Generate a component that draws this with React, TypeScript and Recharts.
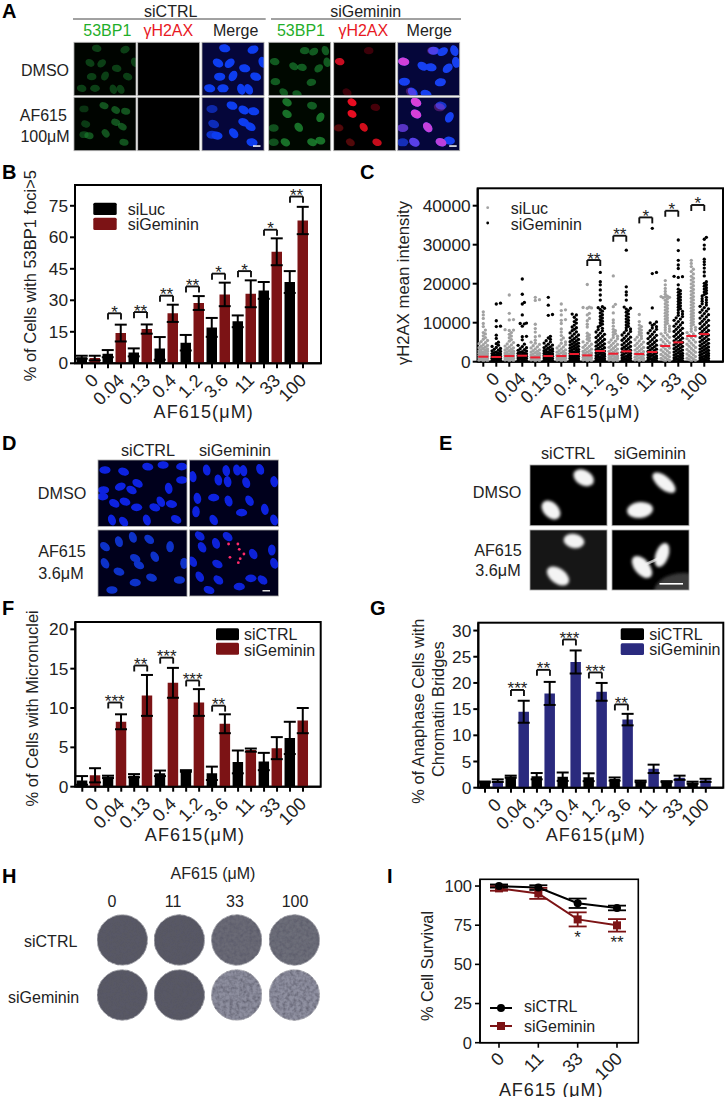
import React from 'react';
import {
  BarChart, Bar, Cell, ErrorBar, XAxis, YAxis, ReferenceLine, ReferenceDot,
  ScatterChart, Scatter, LineChart, Line, Label,
} from 'recharts';

const FONT = '"Liberation Sans", Arial, sans-serif';
const INK = '#222';
const MAROON = '#7c1315';
const NAVY = '#2a2a7e';

const doses = ['0', '0.04', '0.13', '0.4', '1.2', '3.6', '11', '33', '100'];

// Panel B
const bLuc = [2.9, 4.6, 5.2, 7.1, 9.8, 17.1, 20, 34.7, 38.7];
const bLucErr = [0.7, 1.7, 1.9, 5.4, 3.7, 4.5, 2.8, 4, 5.2];
const bGem = [2.5, 14.4, 16.3, 23.8, 28.7, 32.8, 33.1, 53.1, 68];
const bGemErr = [1.1, 4, 2.2, 4.1, 3.3, 5.6, 6.4, 6.4, 6.5];
const bBrackets: [number, number, string][] = [[1, 23.8, '*'], [2, 24.4, '**'], [3, 32.2, '**'], [4, 36.6, '**'], [5, 42.7, '*'], [6, 43.9, '*'], [7, 63.6, '*'], [8, 79.4, '**']];

// Panel F
const fCtrl = [0.8, 1.25, 1.4, 1.7, 2, 1.7, 3.15, 3.2, 6.2];
const fCtrlErr = [0.55, 0.15, 0.2, 0.35, 0.1, 0.85, 1.45, 1.1, 2.05];
const fGem = [1.45, 8.25, 11.6, 13.2, 10.7, 8, 4.65, 4.9, 8.4];
const fGemErr = [0.9, 0.95, 2.6, 1.9, 1.7, 1.2, 0.2, 1.4, 1.6];
const fBrackets: [number, number, string][] = [[1, 10.7, '***'], [2, 15.4, '**'], [3, 16.4, '***'], [4, 13.5, '***'], [5, 10.3, '**']];

// Panel G
const gCtrl = [1.08, 2.1, 2.2, 2.1, 2, 1.65, 1.2, 1.15, 0.95];
const gCtrlErr = [0.1, 0.2, 0.6, 0.8, 0.75, 0.3, 0.15, 0.1, 0.2];
const gGem = [1.34, 14.5, 18, 24, 18.3, 13, 3.6, 1.9, 1.4];
const gGemErr = [0.25, 2.1, 2.2, 2.2, 1.7, 1.1, 0.8, 0.4, 0.3];
const gBrackets: [number, number, string][] = [[1, 18.66, '***'], [2, 22.5, '**'], [3, 28.3, '***'], [4, 22, '***'], [5, 15.9, '**']];

// Panel C: one list per column, alternating siLuc / siGeminin
const c0 = [120,260,390,470,610,730,820,960,1080,1190,1340,1420,1570,1680,1790,1930,2040,2180,2260,2410,2530,2690,2780,2940,3120,3270,3390,3580,3760,3920,4170,4350,4620,4880,5150,5430,5760,6180,6640,7120,7480,8100,9000,9800,11100,12000,12800];
const c1 = [90,240,330,480,570,690,790,910,1010,1130,1240,1360,1440,1590,1710,1820,1960,2080,2190,2340,2470,2610,2790,2960,3180,3390,3650,3920,4240,4610,5000,5970,6800,9000,9100,10500,14800,15000];
const c2 = [140,280,410,520,640,770,860,990,1110,1230,1370,1480,1610,1730,1860,1990,2120,2250,2390,2540,2690,2830,3010,3190,3380,3560,3780,4010,4290,4570,4910,5260,5670,6140,6580,7020,7480,8000,8100,8200,10700,10800,12400,17100];
const c3 = [110,230,350,460,600,700,830,930,1060,1170,1290,1400,1530,1650,1770,1900,2010,2140,2280,2400,2570,2730,2910,3100,3320,3600,3880,4210,4500,5600,6400,6500,9100,9700,9800,9900,12000,14800,15200,17300,21200];
const c4 = [160,300,420,560,670,800,940,1050,1200,1310,1450,1580,1720,1850,2000,2150,2310,2480,2650,2850,3050,3280,3540,3810,4100,4430,4760,5000,5500,6400,6600,7600,8500,9600,15700,15900,16500];
const c5 = [100,220,340,450,580,680,810,920,1040,1150,1270,1380,1510,1630,1750,1880,2000,2120,2260,2390,2520,2660,2810,2960,3110,3280,3450,3630,3820,4030,4260,4500,4780,5060,5390,5730,6120,6500,11900,12100,14500,16500];
const c6 = [130,270,400,510,650,760,880,1000,1120,1260,1390,1520,1660,1800,1950,2100,2270,2440,2620,2810,3030,3260,3510,3790,4080,4400,4730,5050,5600,6100,6700,7600,8400,9800,10600,10800,12000,13100,13300,14800];
const c7 = [80,210,320,440,560,660,780,890,1010,1120,1250,1360,1490,1600,1730,1850,1980,2090,2230,2360,2490,2620,2760,2900,3040,3180,3330,3470,3620,3770,3930,4090,4250,4420,4590,4760,4940,5120,5310,5500,5700,5910,6130,6360,6600,6850,7110,7380,7660,7950,8300,8700,8900,9400,9900,10300,10800,11400,12000,12200];
const c8 = [150,290,430,550,690,820,950,1090,1220,1360,1500,1640,1790,1940,2100,2260,2430,2610,2800,3000,3210,3440,3680,3930,4200,4480,4770,5080,5400,5750,6120,6500,6900,7300,8900,9600,10500,11100,12000,12400,13700,13800,13900,14000,19800];
const c9 = [70,190,310,430,540,660,770,900,1020,1150,1280,1410,1550,1690,1830,1970,2120,2270,2420,2570,2730,2890,3060,3230,3410,3590,3780,3970,4170,4370,4580,4790,5010,5240,5470,5710,5960,6210,6470,6740,7020,7310,7610,7920,8240,8570,8910,9260,9620,10000,10390,10790,11200,11620,12050,12500,12950,13400,13700,13850,14100,15800,17100,18400,19700,20500,22900];
const c10 = [120,250,380,500,630,760,890,1030,1170,1310,1460,1610,1770,1930,2100,2270,2450,2630,2820,3020,3230,3450,3680,3920,4170,4430,4700,4980,5270,5570,5880,6200,6530,6870,7220,7580,7950,8300,9100,10000,10700,12500,14100,14700,22000];
const c11 = [90,210,330,470,590,720,840,970,1100,1230,1370,1510,1650,1800,1950,2110,2270,2430,2600,2770,2950,3130,3320,3510,3710,3910,4120,4330,4550,4780,5010,5250,5500,5750,6010,6280,6560,6840,7130,7430,7740,8060,8390,8730,9080,9440,9810,10190,10580,10980,11390,11810,12240,12680,13100,13500,13700,14000,15800,17100,17900,19200,28600];
const c12 = [140,280,420,560,700,850,1000,1150,1310,1470,1640,1810,1990,2170,2360,2560,2770,2980,3200,3430,3670,3920,4180,4450,4730,5020,5320,5630,5950,6280,6620,6970,7330,7700,8100,8500,9000,9400,10300,12100];
const c13 = [110,240,370,500,640,770,910,1050,1190,1340,1490,1640,1800,1960,2120,2290,2460,2640,2820,3010,3200,3400,3600,3810,4020,4240,4460,4690,4920,5160,5410,5660,5920,6190,6470,6750,7040,7340,7650,7970,8290,8620,8960,9300,9650,9950,10200,13800,22600,22900,34200];
const c14 = [130,310,490,670,860,1050,1250,1450,1650,1860,2080,2300,2530,2760,3000,3240,3490,3740,4000,4260,4530,4800,5080,5360,5650,5940,6240,6540,6850,7160,7480,7800,8130,8460,8800,9140,9490,9840,10200,10560,10930,11300,11680,12060,12450,12840,13240,13640,14050,14460,14880,15300,15730,16100,16400,16500,16600,16700,16800,17300,18000,18800,19700,20800];
const c15 = [100,220,350,470,600,730,860,990,1130,1270,1410,1550,1700,1850,2000,2160,2320,2480,2650,2820,2990,3170,3350,3530,3720,3910,4100,4300,4500,4710,4920,5130,5350,5570,5800,6030,6260,6500,6740,6990,7240,7500,7760,8020,8290,8560,8840,9120,9410,9700,10000,10300,10610,10920,11240,11560,11890,12220,12560,12900,13250,13600,13960,14320,14690,15060,15440,15820,16210,16600,17000,17400,17800,18200,18600,19700,21600,21800,21900,23900,24800,26000,28500,31200];
const c16 = [150,340,520,710,910,1110,1320,1530,1750,1970,2200,2430,2670,2910,3160,3410,3670,3930,4200,4470,4750,5030,5320,5610,5910,6210,6520,6830,7150,7470,7800,8130,8470,8810,9160,9510,9870,10230,10600,10970,11350,11730,12120,12510,12910,13310,13720,14130,14550,14970,15400,15830,16270,16710,17160,17610,18070,18530,19000,19470,19950,20430,20920,21400,21900,22500,23100,23700,24400,25200,26000];
const c17 = [90,210,330,460,580,710,840,970,1100,1240,1380,1520,1660,1810,1960,2110,2260,2420,2580,2740,2900,3070,3240,3410,3590,3770,3950,4130,4320,4510,4700,4900,5100,5300,5510,5720,5930,6150,6370,6590,6820,7050,7280,7520,7760,8000,8250,8500,8750,9010,9270,9530,9800,10070,10340,10620,10900,11180,11470,11760,12050,12350,12650,12950,13260,13570,13880,14200,14520,14840,15170,15500,15830,16170,16510,16850,17200,17550,17900,18260,18620,18990,19360,19730,20100,20500,22000,23000,24000,24900,25600,26300,28900,29900,31400,31900];
const cColumns = [c0, c1, c2, c3, c4, c5, c6, c7, c8, c9, c10, c11, c12, c13, c14, c15, c16, c17];
const cMedians = [1280, 1200, 1450, 1540, 1100, 1450, 1450, 1970, 1620, 2735, 2050, 2650, 1970, 2480, 4020, 4960, 6590, 7080];
const cBrackets: [number, number, string][] = [[4, 26070, '**'], [5, 32300, '**'], [6, 37000, '*'], [7, 38700, '*'], [8, 40180, '*']];

// Panel I
const iDoses = ['0', '11', '33', '100'];
const iCtrl = [100, 99, 89, 86];
const iCtrlErr = [1, 1.5, 3, 1.5];
const iGem = [98.5, 95.3, 78.7, 74.9];
const iGemErr = [1.5, 3.5, 4.5, 4];

const xyPxStep = 13;

function pairRows(cats: string[], a: number[], aErr: number[], b: number[], bErr: number[]) {
  return cats.flatMap((c, i) => [
    { key: `${c}|a`, value: a[i], err: aErr[i] },
    { key: `${c}|b`, value: b[i], err: bErr[i] },
  ]);
}

function bracketMarks(
  list: [number, number, string][],
  tip: number,
  a: (i: number) => any,
  b: (i: number) => any,
) {
  return list.flatMap(([g, y, stars]) => [
    <ReferenceLine key={`${g}t`} segment={[{ x: a(g), y }, { x: b(g), y }]} stroke="#111" strokeWidth={1.9}
      label={{ value: stars, position: 'top', offset: -4.5, fontSize: 17, fill: INK, fontFamily: FONT }} />,
    <ReferenceLine key={`${g}l`} segment={[{ x: a(g), y }, { x: a(g), y: y - tip }]} stroke="#111" strokeWidth={1.9} />,
    <ReferenceLine key={`${g}r`} segment={[{ x: b(g), y }, { x: b(g), y: y - tip }]} stroke="#111" strokeWidth={1.9} />,
  ]);
}

const tickStyle = { fontSize: 17.3, fill: INK, fontFamily: FONT };
const titleStyle = { fontSize: 16.4, fill: INK, fontFamily: FONT };
const doseTitleStyle = { fontSize: 18, fill: INK, fontFamily: FONT, letterSpacing: 1.1 };

function rotatedText(x: number, y: number, text: string) {
  return (
    <text x={x} y={y} textAnchor="end" dominantBaseline="central" transform={`rotate(-45 ${x} ${y})`}
      fontSize={18} fill={INK} fontFamily={FONT}>{text}</text>
  );
}

const pairTick = (labels: string[]) => (p: any) => {
  if (p.index % 2) return <g />;
  return rotatedText(p.x + 13, p.y + 7, labels[p.index / 2]);
};

function BarPanel(props: any) {
  const { left, top, width, height, margin, yWidth, xHeight, rows, max, ticks, color, brackets, tip, padL, padR, children, xTitle, xDx, xOffset } = props;
  return (
    <div style={{ position: 'absolute', left, top }}>
      <BarChart width={width} height={height} data={rows} margin={margin} barCategoryGap={0}>
        <XAxis dataKey="key" interval={0} padding={{ left: padL, right: padR }} height={xHeight}
          axisLine={{ stroke: '#000', strokeWidth: 2 }} tickLine={{ stroke: '#000', strokeWidth: 2 }} tickSize={5}
          tick={pairTick(doses)}>
          <Label value={xTitle} position="insideBottom" offset={xOffset} dx={xDx} style={doseTitleStyle} />
        </XAxis>
        <YAxis type="number" domain={[0, max]} ticks={ticks} width={yWidth} interval={0} allowDataOverflow
          axisLine={{ stroke: '#000', strokeWidth: 2 }} tickLine={{ stroke: '#000', strokeWidth: 2 }} tickSize={5} tickMargin={2} tick={tickStyle}>
          {children}
        </YAxis>
        <Bar dataKey="value" barSize={10.5} isAnimationActive={false}>
          {rows.map((r: any, i: number) => <Cell key={r.key} fill={i % 2 ? color : '#000'} />)}
          <ErrorBar dataKey="err" width={6} strokeWidth={2} stroke="#000" />
        </Bar>
        {bracketMarks(brackets, tip, (g) => `${doses[g]}|a`, (g) => `${doses[g]}|b`)}
      </BarChart>
    </div>
  );
}

// Lays equal-value dots side by side so they read as a column of a dot plot.
function swarm(values: number[], col: number) {
  const d = 2.1;
  const clear = 2.5;
  const slots = [0, 1, -1, 2, -2];
  const placed: { px: number; py: number }[] = [];
  return values.map((v) => {
    const py = v / 256.4;
    let best = 0;
    let bestGap = -1;
    for (const s of slots) {
      const px = s * d;
      let gap = Infinity;
      for (const q of placed) gap = Math.min(gap, Math.hypot(q.px - px, q.py - py));
      if (gap >= clear) { best = px; bestGap = gap; break; }
      if (gap > bestGap) { bestGap = gap; best = px; }
    }
    placed.push({ px: best, py });
    return { x: col + best / xyPxStep, y: v };
  });
}

const grayPoints = cColumns.flatMap((vals, i) => (i % 2 === 0 ? swarm(vals, i) : []));
const blackPoints = cColumns.flatMap((vals, i) => (i % 2 === 1 ? swarm(vals, i) : []));
const medianPoints = cMedians.map((y, x) => ({ x, y }));
const columnTicks = cColumns.map((_, i) => i);

const dot = (fill: string) => (p: any) => <circle cx={p.cx} cy={p.cy} r={1.65} fill={fill} />;
const medianDash = (p: any) => <rect x={p.cx - 5} y={p.cy - 1} width={10} height={2} fill="#ee1c2e" />;

function PanelC() {
  const max = 44460;
  return (
    <div style={{ position: 'absolute', left: 380, top: 170 }}>
      <ScatterChart width={346} height={270} margin={{ top: 18.3, right: 3, bottom: 0, left: 0 }}>
        <XAxis type="number" dataKey="x" domain={[-0.43, 18.44]} ticks={columnTicks} interval={0} height={78.3}
          axisLine={{ stroke: '#000', strokeWidth: 2 }} tickLine={{ stroke: '#000', strokeWidth: 2 }} tickSize={5}
          tick={(p: any) => (Math.round(p.payload.value) % 2 ? <g /> : rotatedText(p.x + 13, p.y + 7, doses[Math.round(p.payload.value) / 2]))}>
          <Label value="AF615(μM)" position="insideBottom" offset={22} dx={-10} style={doseTitleStyle} />
        </XAxis>
        <YAxis type="number" dataKey="y" domain={[0, max]} ticks={[0, 10000, 20000, 30000, 40000]} width={97.7} interval={0} allowDataOverflow
          axisLine={{ stroke: '#000', strokeWidth: 2 }} tickLine={{ stroke: '#000', strokeWidth: 2 }} tickSize={5} tickMargin={2} tick={tickStyle}>
          <Label value="γH2AX mean intensity" angle={-90} position="insideLeft" offset={0} dx={23} dy={8} style={{ ...titleStyle, fontSize: 16.7, textAnchor: 'middle' }} />
        </YAxis>
        <Scatter name="siLuc" data={grayPoints} shape={dot('#a2a2a2')} isAnimationActive={false} />
        <Scatter name="siGeminin" data={blackPoints} shape={dot('#000')} isAnimationActive={false} />
        <Scatter name="median" data={medianPoints} shape={medianDash} isAnimationActive={false} />
        {bracketMarks(cBrackets, 1540, (g) => g * 2, (g) => g * 2 + 1)}
      </ScatterChart>
    </div>
  );
}

const iRows = iDoses.map((d, i) => ({ d, ctrl: iCtrl[i], ctrlErr: iCtrlErr[i], gem: iGem[i], gemErr: iGemErr[i] }));

function PanelI() {
  const max = 104.3;
  return (
    <div style={{ position: 'absolute', left: 400, top: 870 }}>
      <LineChart width={250} height={227} data={iRows} margin={{ top: 9.3, right: 11.7, bottom: 0, left: 0 }}>
        <XAxis dataKey="d" interval={0} padding={{ left: 19, right: 21.3 }} height={54.3}
          axisLine={{ stroke: '#000', strokeWidth: 1.6 }} tickLine={{ stroke: '#000', strokeWidth: 1.6 }} tickSize={5}
          tick={(p: any) => rotatedText(p.x + 2, p.y + 6, p.payload.value)}>
          <Label value="AF615 (μM)" position="insideBottom" offset={1} dx={-8} style={{ ...doseTitleStyle, letterSpacing: 0.9 }} />
        </XAxis>
        <YAxis type="number" domain={[0, max]} ticks={[0, 25, 50, 75, 100]} width={80} interval={0} allowDataOverflow
          axisLine={{ stroke: '#000', strokeWidth: 1.6 }} tickLine={{ stroke: '#000', strokeWidth: 1.6 }} tickSize={5} tickMargin={3} tick={{ ...tickStyle, fontSize: 16.5 }}>
          <Label value="% Cell Survival" angle={-90} position="insideLeft" offset={0} dx={27} dy={5} style={{ ...titleStyle, textAnchor: 'middle' }} />
        </YAxis>
        <Line dataKey="gem" stroke={MAROON} strokeWidth={2} isAnimationActive={false}
          dot={(p: any) => <rect key={p.index} x={p.cx - 4} y={p.cy - 4} width={8} height={8} fill={MAROON} />}>
          <ErrorBar dataKey="gemErr" width={9} strokeWidth={1.8} stroke={MAROON} />
        </Line>
        <Line dataKey="ctrl" stroke="#000" strokeWidth={2} isAnimationActive={false}
          dot={(p: any) => <circle key={p.index} cx={p.cx} cy={p.cy} r={4} fill="#000" />}>
          <ErrorBar dataKey="ctrlErr" width={9} strokeWidth={1.8} stroke="#000" />
        </Line>
        <ReferenceDot x="33" y={67.5} r={0} stroke="none" label={{ value: '*', position: 'center', fontSize: 17, fill: INK, fontFamily: FONT }} />
        <ReferenceDot x="100" y={64.5} r={0} stroke="none" label={{ value: '**', position: 'center', fontSize: 17, fill: INK, fontFamily: FONT }} />
      </LineChart>
    </div>
  );
}

/* ---------- micrograph panels (decorative plain SVG) ---------- */
type Blob = [number, number, number, number?];
const layoutA1: Blob[] = [[68,18,10],[153,22,-20],[83,63,-40],[128,78,10],[48,62,30],[53,103,0],[161,103,20],[93,101,-60],[118,141,70],[140,141,60],[63,138,0],[23,138,10],[182,60,70]];
const layoutA2: Blob[] = [[30,35,0,0.6],[90,25,20],[125,38,30],[155,42,10],[35,80,20,0.7],[125,75,20],[145,88,30],[45,115,10],[95,108,50],[30,112,0,0.8],[150,135,10]];
const layoutA3: Blob[] = [[108,25,0],[135,28,-30],[170,25,70],[18,58,10],[75,72,30],[100,75,10],[150,78,-40],[20,118,0],[128,120,-10],[45,150,40],[85,155,20],[175,60,80]];
const layoutA4: Blob[] = [[55,15,30],[130,25,10,0.8],[55,50,30],[155,60,-60],[15,92,0,0.7],[90,90,50],[130,135,20],[50,135,30],[155,130,10],[15,135,0,0.7]];
const redA3: Blob[] = [[18,58,10,1],[105,25,0,0.3],[40,150,30,0.3]];
const redA4: Blob[] = [[55,15,30,1],[55,50,30,1],[90,90,50,0.9],[130,135,20,0.85],[15,92,0,0.35],[50,135,30,0.35],[125,30,10,0.3]];

function Tile({ x, y, w, h, bg, children }: any) {
  return (
    <g>
      <svg x={x} y={y} width={w} height={h}>
        <rect x={0} y={0} width={w} height={h} fill={bg} />
        {children}
      </svg>
      <rect x={x} y={y} width={w} height={h} fill="none" stroke="#a9a9a9" strokeWidth={0.8} />
    </g>
  );
}

function Nuclei({ list, fill, scale = 1 / 3, rx = 5.6, ry = 4, op = 1, blur = 'b1' }: any) {
  return (
    <g filter={`url(#${blur})`}>
      {list.map((n: Blob, i: number) => (
        <ellipse key={i} cx={n[0] * scale} cy={n[1] * scale} rx={rx} ry={ry} fill={fill}
          opacity={op * (n[3] ?? 1)} transform={`rotate(${n[2]} ${n[0] * scale} ${n[1] * scale})`} />
      ))}
    </g>
  );
}

const aColX = [74, 137.7, 202, 268.7, 333.7, 397.7];
const aRowY = [42.3, 97.3];
const TW = 62;
const TH = 53.4;

const dA: Blob[] = [[15,30,0],[55,35,20],[107,20,10],[140,15,0],[180,20,0],[85,70,30],[48,80,-20],[72,90,30],[152,85,80],[12,90,0],[10,110,0],[35,130,30],[58,125,20],[83,142,0],[122,142,20],[135,125,60],[158,132,10],[30,180,70],[55,185,50],[105,180,70],[168,178,30],[180,60,0]];
const dB: Blob[] = [[37,30,80],[79,32,80],[102,30,80],[116,32,80],[152,28,70],[62,60,80],[82,65,80],[122,68,70],[182,65,80],[17,115,80],[52,113,0],[84,123,70],[129,122,60],[162,148,80],[14,155,90],[112,158,0],[52,180,60],[182,180,70],[7,50,80]];
const dC: Blob[] = [[15,50,40],[45,35,70],[75,22,70],[110,28,40],[155,50,90],[80,85,30],[122,80,60],[88,105,30],[15,100,60],[45,125,20],[115,143,20],[175,150,0],[80,158,0],[30,180,0],[185,100,90]];
const dD: Blob[] = [[22,18,40],[82,20,40],[27,52,60],[57,40,70],[137,72,60],[60,102,30],[7,95,60],[177,60,90],[22,140,60],[62,150,40],[132,145,0],[157,150,40],[107,170,0],[182,100,70],[42,180,20]];
const dPink: Blob[] = [[84,42,0],[104,42,0],[107,58,0],[117,72,0],[87,82,0],[109,86,0],[105,98,0]];

function DTile({ x, y, list, fill }: any) {
  return (
    <Tile x={x} y={y} w={89} h={66.5} bg="#00001c">
      <g filter="url(#b1)">
        {list.map((n: Blob, i: number) => {
          const cx = n[0] / 2.15; const cy = n[1] / 3;
          return <ellipse key={i} cx={cx} cy={cy} rx={5.6} ry={3.8} fill={fill} transform={`rotate(${n[2]} ${cx} ${cy})`} />;
        })}
      </g>
    </Tile>
  );
}

function Blobs({ items }: any) {
  return (
    <g filter="url(#b2)">
      {items.map((b: number[], i: number) => (
        <ellipse key={i} cx={b[0]} cy={b[1]} rx={b[2]} ry={b[3]} fill="#f4f4f4" transform={`rotate(${b[4]} ${b[0]} ${b[1]})`} />
      ))}
    </g>
  );
}

const plateX = [122.3, 179.3, 236.7, 294.3];
const plateRows = [
  { y: 940, fills: ['#585963', '#585963', '#6a6b76', '#6d6e79'] },
  { y: 995, fills: ['#585963', '#585963', '#8d8e9e', '#8f90a0'] },
];

function T(p: any) {
  const { x, y, children, size = 16, anchor = 'start', fill = INK, weight } = p;
  return <text x={x} y={y} fontSize={size} fontFamily={FONT} textAnchor={anchor} dominantBaseline="central" fill={fill} fontWeight={weight}>{children}</text>;
}

function Swatches({ x, y1, y2, w, h, c2 }: any) {
  return (
    <g>
      <rect x={x} y={y1} width={w} height={h} rx={1.5} fill="#000" />
      <rect x={x} y={y2} width={w} height={h} rx={1.5} fill={c2} />
    </g>
  );
}

function Overlay() {
  return (
    <svg width={726} height={1097} style={{ position: 'absolute', left: 0, top: 0 }}>
      <defs>
        <filter id="b1" x="-20%" y="-20%" width="140%" height="140%"><feGaussianBlur stdDeviation="0.7" /></filter>
        <filter id="b2" x="-20%" y="-20%" width="140%" height="140%"><feGaussianBlur stdDeviation="1.6" /></filter>
        <filter id="speck" x="0" y="0" width="100%" height="100%">
          <feTurbulence type="fractalNoise" baseFrequency="0.3" numOctaves="2" seed="4" result="n" />
          <feColorMatrix in="n" type="matrix" values="0 0 0 0 0.1  0 0 0 0 0.1  0 0 0 0 0.14  0 0 0 1.6 -0.55" result="d" />
          <feComposite in="d" in2="SourceGraphic" operator="in" result="c" />
          <feMerge><feMergeNode in="SourceGraphic" /><feMergeNode in="c" /></feMerge>
        </filter>
      </defs>

      {/* panel letters */}
      {[['A', 2, 11], ['B', 2, 172], ['C', 360, 172], ['D', 2, 443], ['E', 439, 443], ['F', 2, 608], ['G', 370, 608], ['H', 2, 876], ['I', 387, 876]].map(([l, x, y]) => (
        <T key={l as string} x={x} y={y} size={20} weight="bold" fill="#000">{l}</T>
      ))}

      {/* chart frames */}
      <rect x={75} y={185} width={246} height={178.3} fill="none" stroke="#000" strokeWidth={2} />
      <rect x={477.7} y={188.3} width={245.3} height={173.4} fill="none" stroke="#000" strokeWidth={2} />
      <rect x={75.3} y={622} width={245.4} height={164.7} fill="none" stroke="#000" strokeWidth={2} />
      <rect x={478.3} y={622.7} width={245} height={165} fill="none" stroke="#000" strokeWidth={2} />
      <rect x={480} y={879.3} width={158.3} height={163.4} fill="none" stroke="#000" strokeWidth={1.6} />

      {/* A */}
      <T x={170.7} y={11} anchor="middle">siCTRL</T>
      <T x={365.7} y={11} anchor="middle">siGeminin</T>
      <line x1={73} x2={265.7} y1={19} y2={19} stroke="#444" strokeWidth={1} />
      <line x1={271} x2={461} y1={19} y2={19} stroke="#444" strokeWidth={1} />
      <T x={107.3} y={30.7} anchor="middle" fill="#1fae2a">53BP1</T>
      <T x={168.3} y={30.7} anchor="middle" fill="#e8181f">γH2AX</T>
      <T x={235.7} y={30.7} anchor="middle">Merge</T>
      <T x={301} y={30.7} anchor="middle" fill="#1fae2a">53BP1</T>
      <T x={363.3} y={30.7} anchor="middle" fill="#e8181f">γH2AX</T>
      <T x={429.3} y={30.7} anchor="middle">Merge</T>
      <T x={45} y={70} anchor="middle">DMSO</T>
      <T x={43.3} y={115} anchor="middle">AF615</T>
      <T x={45} y={136.7} anchor="middle">100μM</T>

      <Tile x={aColX[0]} y={aRowY[0]} w={TW} h={TH} bg="#000400"><Nuclei list={layoutA1} fill="#1a7a2c" op={0.5} rx={4.8} ry={3.6} /></Tile>
      <Tile x={aColX[1]} y={aRowY[0]} w={TW} h={TH} bg="#000" />
      <Tile x={aColX[2]} y={aRowY[0]} w={TW} h={TH} bg="#05063a"><Nuclei list={layoutA1} fill="#0f3cf0" /></Tile>
      <Tile x={aColX[3]} y={aRowY[0]} w={TW} h={TH} bg="#000800"><Nuclei list={layoutA3} fill="#1f9c3a" op={0.55} rx={4.8} ry={3.6} /></Tile>
      <Tile x={aColX[4]} y={aRowY[0]} w={TW} h={TH} bg="#000"><Nuclei list={redA3} fill="#c81020" rx={4.8} ry={3.6} /></Tile>
      <Tile x={aColX[5]} y={aRowY[0]} w={TW} h={TH} bg="#05063a"><Nuclei list={layoutA3} fill="#1840f0" /><Nuclei list={redA3} fill="#d040d8" /></Tile>

      <Tile x={aColX[0]} y={aRowY[1]} w={TW} h={TH} bg="#000400"><Nuclei list={layoutA2} fill="#1c8530" op={0.6} rx={4.6} ry={3.4} /></Tile>
      <Tile x={aColX[1]} y={aRowY[1]} w={TW} h={TH} bg="#000" />
      <Tile x={aColX[2]} y={aRowY[1]} w={TW} h={TH} bg="#05063a">
        <Nuclei list={layoutA2} fill="#0f3cf0" />
        <rect x={51} y={48} width={7.5} height={1.5} fill="#fff" />
      </Tile>
      <Tile x={aColX[3]} y={aRowY[1]} w={TW} h={TH} bg="#000800"><Nuclei list={layoutA4} fill="#25a83f" op={0.65} rx={5} ry={3.8} /></Tile>
      <Tile x={aColX[4]} y={aRowY[1]} w={TW} h={TH} bg="#000"><Nuclei list={redA4} fill="#e81020" rx={4.8} ry={3.6} /></Tile>
      <Tile x={aColX[5]} y={aRowY[1]} w={TW} h={TH} bg="#05063a">
        <Nuclei list={layoutA4} fill="#1840f0" /><Nuclei list={redA4} fill="#d840d8" />
        <rect x={51.5} y={48} width={7.5} height={1.5} fill="#fff" />
      </Tile>

      {/* B legend */}
      <Swatches x={93.3} y1={202.7} y2={217.7} w={23.4} h={12.4} c2={MAROON} />
      <T x={127.7} y={209.3}>siLuc</T>
      <T x={127.7} y={224.3}>siGeminin</T>

      {/* C legend */}
      <circle cx={487.7} cy={207.7} r={1.4} fill="#a2a2a2" />
      <circle cx={487.7} cy={223} r={1.4} fill="#000" />
      <T x={510.7} y={208}>siLuc</T>
      <T x={510.7} y={224}>siGeminin</T>

      {/* D */}
      <T x={148} y={450} anchor="middle" size={16.2}>siCTRL</T>
      <T x={235} y={450} anchor="middle" size={16.2}>siGeminin</T>
      <T x={62} y={493} anchor="middle" size={16.2}>DMSO</T>
      <T x={62} y={551} anchor="middle" size={16.2}>AF615</T>
      <T x={61} y={573} anchor="middle" size={16.2}>3.6μM</T>
      <DTile x={98} y={460} list={dA} fill="#0b22e0" />
      <DTile x={189.5} y={460} list={dB} fill="#0b22e0" />
      <DTile x={98} y={530} list={dC} fill="#1030c8" />
      <Tile x={189.5} y={530} w={89} h={66} bg="#00001c">
        <g filter="url(#b1)">
          {dD.map((n, i) => <ellipse key={i} cx={n[0] / 2.15} cy={n[1] / 3} rx={5.6} ry={3.8} fill="#0b22d8" transform={`rotate(${n[2]} ${n[0] / 2.15} ${n[1] / 3})`} />)}
        </g>
        {dPink.map((n, i) => <circle key={i} cx={n[0] / 2.15} cy={n[1] / 3} r={1.4} fill="#ff2a6a" />)}
        <rect x={73} y={60} width={7.5} height={1.5} fill="#ddd" />
      </Tile>

      {/* E */}
      <T x={568} y={453} anchor="middle" size={16.2}>siCTRL</T>
      <T x={650} y={453} anchor="middle" size={16.2}>siGeminin</T>
      <T x={497} y={492} anchor="middle" size={16.2}>DMSO</T>
      <T x={498} y={550} anchor="middle" size={16.2}>AF615</T>
      <T x={498} y={570} anchor="middle" size={16.2}>3.6μM</T>
      <Tile x={530} y={465} w={77} h={60.7} bg="#000"><Blobs items={[[53.7, 12.7, 11, 7.5, 30], [21, 45, 11, 7.5, 45]]} /></Tile>
      <Tile x={612} y={465} w={77} h={60.7} bg="#000"><Blobs items={[[52, 17.7, 14, 6.5, 40], [28, 45, 13, 8, -5]]} /></Tile>
      <Tile x={530} y={530} w={77} h={60} bg="#161616"><Blobs items={[[44, 11, 10.5, 7, 10], [28, 46, 12.5, 7.5, 35]]} /></Tile>
      <Tile x={612} y={530} w={77} h={60} bg="#000">
        <ellipse cx={72} cy={62} rx={30} ry={19} fill="#3a3a3a" filter="url(#b2)" />
        <line x1={30} y1={36} x2={50} y2={27} stroke="#aaa" strokeWidth={2.5} filter="url(#b1)" />
        <Blobs items={[[50, 25, 12.5, 6.5, -70], [30, 37, 13, 7.5, 50]]} />
        <rect x={47.5} y={53} width={23.5} height={1.6} fill="#fff" />
      </Tile>

      {/* F legend */}
      <Swatches x={216} y1={628.3} y2={642.7} w={23} h={12} c2={MAROON} />
      <T x={244} y={634.3}>siCTRL</T>
      <T x={244} y={650}>siGeminin</T>

      {/* G legend */}
      <Swatches x={620.7} y1={628.3} y2={643.3} w={23.3} h={11.8} c2={NAVY} />
      <T x={649.3} y={634.3}>siCTRL</T>
      <T x={649.3} y={649.5}>siGeminin</T>

      {/* H */}
      <T x={213} y={873} anchor="middle">AF615 (μM)</T>
      {iDoses.map((d, i) => <T key={d} x={[112, 173, 235, 295][i]} y={901.7} anchor="middle">{d}</T>)}
      <T x={24} y={941.7}>siCTRL</T>
      <T x={8} y={997.7}>siGeminin</T>
      {plateRows.map((row) => plateX.map((x, i) => (
        <circle key={`${row.y}-${x}`} cx={x} cy={row.y} r={25.2} fill={row.fills[i]} stroke="#b5b5bb" strokeWidth={0.8} filter="url(#speck)" />
      )))}

      {/* I legend */}
      <line x1={490} x2={512} y1={1008} y2={1008} stroke="#000" strokeWidth={2} />
      <circle cx={501} cy={1008} r={4} fill="#000" />
      <line x1={490} x2={512} y1={1026} y2={1026} stroke={MAROON} strokeWidth={2} />
      <rect x={497} y={1022} width={8} height={8} fill={MAROON} />
      <T x={524} y={1006}>siCTRL</T>
      <T x={524} y={1026}>siGeminin</T>
    </svg>
  );
}

const bRows = pairRows(doses, bLuc, bLucErr, bGem, bGemErr);
const fRows = pairRows(doses, fCtrl, fCtrlErr, fGem, fGemErr);
const gRows = pairRows(doses, gCtrl, gCtrlErr, gGem, gGemErr);

export default function App() {
  return (
    <div style={{ position: 'absolute', left: 0, top: 0, width: 726, height: 1097, background: '#fff', overflow: 'hidden' }}>
      <Overlay />
      <BarPanel left={0} top={170} width={340} height={270} margin={{ top: 15, right: 19, bottom: 0, left: 0 }} yWidth={75} xHeight={76.7}
        rows={bRows} max={84.9} ticks={[0, 15, 30, 45, 60, 75]} color={MAROON} brackets={bBrackets} tip={2.9} padL={0.5} padR={11.5}
        xTitle="AF615(μM)" xDx={5.7} xOffset={22}>
        <Label value="% of Cells with 53BP1 foci>5" angle={-90} position="insideLeft" offset={0} dx={30} dy={1.5} style={{ ...titleStyle, fontSize: 16.5, textAnchor: 'middle' }} />
      </BarPanel>
      <PanelC />
      <BarPanel left={0} top={610} width={340} height={240} margin={{ top: 12, right: 19.3, bottom: 0, left: 0 }} yWidth={75.3} xHeight={63.3}
        rows={fRows} max={20.93} ticks={[0, 5, 10, 15, 20]} color={MAROON} brackets={fBrackets} tip={0.76} padL={0.5} padR={11.2}
        xTitle="AF615(μM)" xDx={-3} xOffset={9}>
        <Label value="% of Cells with Micronuclei" angle={-90} position="insideLeft" offset={0} dx={32} dy={4} style={{ ...titleStyle, fontSize: 16.5, textAnchor: 'middle' }} />
      </BarPanel>
      <BarPanel left={380} top={610} width={346} height={240} margin={{ top: 12.7, right: 2.7, bottom: 0, left: 0 }} yWidth={98.3} xHeight={62.3}
        rows={gRows} max={31.5} ticks={[0, 5, 10, 15, 20, 25, 30]} color={NAVY} brackets={gBrackets} tip={1.15} padL={0.2} padR={11}
        xTitle="AF615(μM)" xDx={-5} xOffset={9}>
        <Label value="% of Anaphase Cells with" angle={-90} position="insideLeft" offset={0} dx={38} dy={6} style={{ ...titleStyle, textAnchor: 'middle' }} />
        <Label value="Chromatin Bridges" angle={-90} position="insideLeft" offset={0} dx={58} dy={4} style={{ ...titleStyle, textAnchor: 'middle' }} />
      </BarPanel>
      <PanelI />
    </div>
  );
}
